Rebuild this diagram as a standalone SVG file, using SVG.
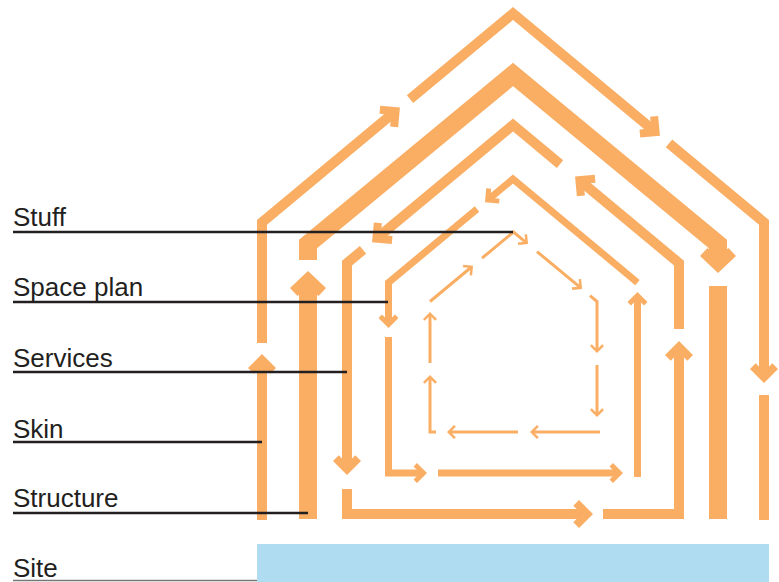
<svg xmlns="http://www.w3.org/2000/svg" width="779" height="582" viewBox="0 0 779 582">
<style>
.l{fill:none;stroke:#F9AE64;stroke-linejoin:miter;stroke-linecap:butt;stroke-miterlimit:10}
.skin{stroke-width:10}
.str{stroke-width:18}
.srv{stroke-width:10}
.sp{stroke-width:7}
.stf{stroke-width:3}
.ms{marker-end:url(#mSkin)}
.mt{marker-end:url(#mStr)}
.mp{marker-end:url(#mSp)}
.mf{marker-end:url(#mStf)}
.lbl{font-family:"Liberation Sans",Arial,sans-serif;font-size:26px;fill:#231F20}
.ln{stroke:#231F20;stroke-width:2.4;fill:none}
</style>
<defs>
<marker id="mSkin" markerUnits="userSpaceOnUse" orient="auto" refX="0" refY="0" markerWidth="40" markerHeight="40" overflow="visible">
<polygon points="8,0 -6,14 -11.7,8.3 -3.3,0 -11.7,-8.3 -6,-14" fill="#F9AE64"/>
</marker>
<marker id="mStr" markerUnits="userSpaceOnUse" orient="auto" refX="0" refY="0" markerWidth="40" markerHeight="40" overflow="visible">
<polygon points="10,0 -7,18 -15,10.5 -5.6,0 -15,-10.5 -7,-18" fill="#F9AE64"/>
</marker>
<marker id="mSp" markerUnits="userSpaceOnUse" orient="auto" refX="0" refY="0" markerWidth="30" markerHeight="30" overflow="visible">
<polygon points="5,0 -5,10 -8.5,6.5 -2.1,0 -8.5,-6.5 -5,-10" fill="#F9AE64"/>
</marker>
<marker id="mStf" markerUnits="userSpaceOnUse" orient="auto" refX="0" refY="0" markerWidth="20" markerHeight="20" overflow="visible">
<polygon points="2,0 -5,7 -6.8,5.2 -1.5,0 -6.8,-5.2 -5,-7" fill="#F9AE64"/>
</marker>
</defs>
<rect width="779" height="582" fill="#FFFFFF"/>
<g id="site">
<rect x="257" y="544" width="512" height="38" fill="#B0DCF2"/>
</g>
<g id="connectors">
<g id="skin">
<path class="l skin ms" d="M262,520 V362"/>
<path class="l skin ms" d="M262,343 V222.3 L393.8,112.6"/>
<path class="l skin ms" d="M410,99.2 L513,13.5 L653.8,130.7"/>
<path class="l skin ms" d="M669,143.3 L764,222.3 V375"/>
<path class="l skin" d="M764,395 V520"/>
</g>
<g id="structure">
<path class="l str mt" d="M308,519 V281"/>
<path class="l str mt" d="M308,260 V244 L513,74.5 L718,244 V263"/>
<path class="l str" d="M718,286 V519"/>
</g>
<g id="services">
<path class="l srv ms" d="M560,164.1 L513,125 L378.2,237.2"/>
<path class="l srv ms" d="M363,249.8 L347,263.1 V467"/>
<path class="l srv ms" d="M347,489 V514 H585"/>
<path class="l srv ms" d="M603,514 H679 V349"/>
<path class="l srv ms" d="M679,329 V263.1 L581.2,181.7"/>
</g>
<g id="space-plan">
<path class="l sp mp" d="M637.5,282.6 L513,179 L488.8,199.1"/>
<path class="l sp mp" d="M477,209 L388.5,282.6 V323"/>
<path class="l sp mp" d="M388.5,337 V473 H422"/>
<path class="l sp mp" d="M438,473 H618"/>
<path class="l sp mp" d="M637.5,477 V297"/>
</g>
<g id="stuff">
<path class="l stf mf" d="M482,258.2 L513.5,232 L526.5,242.8"/>
<path class="l stf mf" d="M537,251.6 L580.5,287.7"/>
<path class="l stf mf" d="M590,295.6 L597,301.5 V351"/>
<path class="l stf mf" d="M597,365 V415"/>
<path class="l stf mf" d="M600,432 H532"/>
<path class="l stf mf" d="M518,432 H449"/>
<path class="l stf mf" d="M436,432 H430 V377"/>
<path class="l stf mf" d="M430,363 V314"/>
<path class="l stf mf" d="M430,301.5 L471.5,267"/>
</g>
</g>
<g id="labels">
<g id="label-stuff"><text class="lbl" x="13" y="226">Stuff</text><path class="ln" d="M13,232 H513"/></g>
<g id="label-space-plan"><text class="lbl" x="13" y="296">Space plan</text><path class="ln" d="M13,302 H388"/></g>
<g id="label-services"><text class="lbl" x="13" y="367">Services</text><path class="ln" d="M13,372 H347"/></g>
<g id="label-skin"><text class="lbl" x="13" y="438">Skin</text><path class="ln" d="M13,442 H262"/></g>
<g id="label-structure"><text class="lbl" x="13" y="507">Structure</text><path class="ln" d="M13,513 H308"/></g>
<g id="label-site"><text class="lbl" x="13" y="577">Site</text><path d="M13,580.5 H257" stroke="#777" stroke-width="1.5" fill="none"/></g>
</g>
</svg>
